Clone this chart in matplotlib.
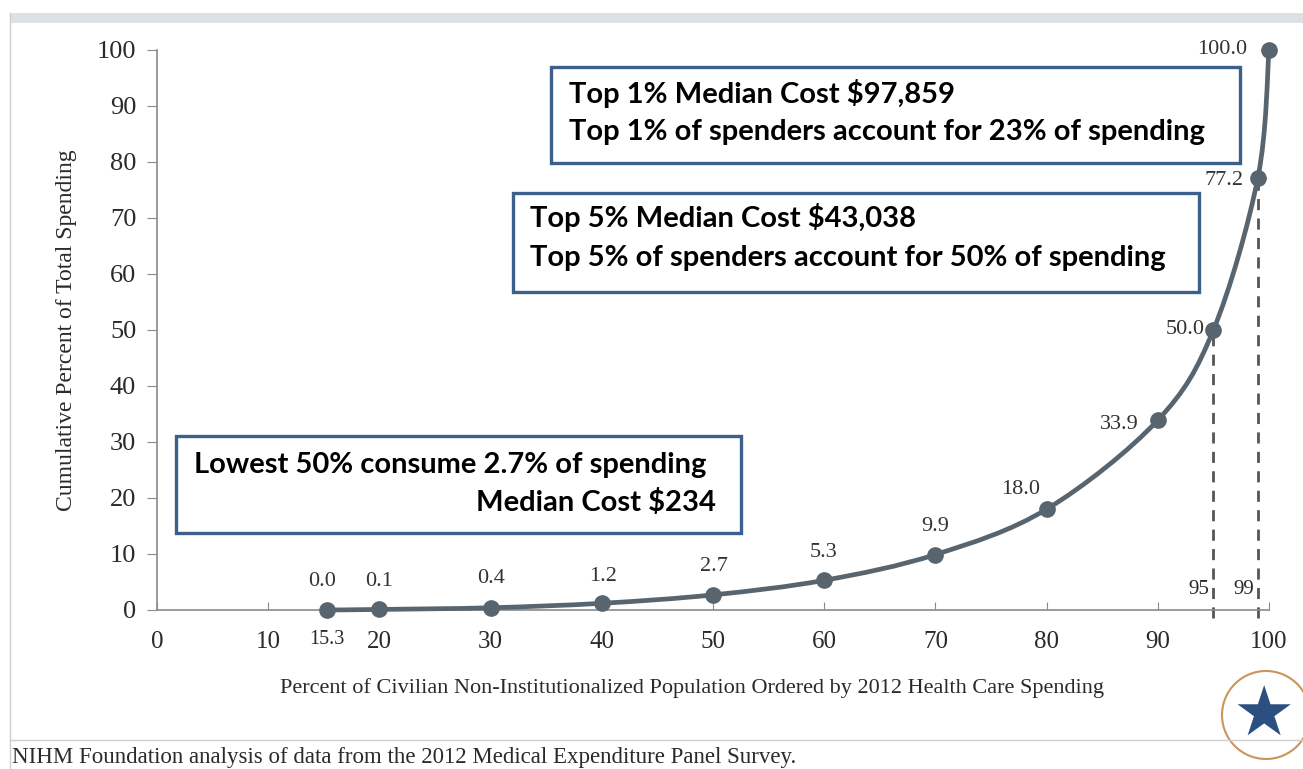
import matplotlib.pyplot as plt
from matplotlib.patches import Rectangle, Circle
from matplotlib.path import Path
from matplotlib.patches import PathPatch
from matplotlib.transforms import IdentityTransform

# data
pct_population = [15.3, 20, 30, 40, 50, 60, 70, 80, 90, 95, 99, 100]
cum_spending = [0.0, 0.1, 0.4, 1.2, 2.7, 5.3, 9.9, 18.0, 33.9, 50.0, 77.2, 100.0]
point_labels = ["0.0", "0.1", "0.4", "1.2", "2.7", "5.3", "9.9", "18.0", "33.9", "50.0", "77.2", "100.0"]
cutoffs = [95, 99]
cutoff_spending = [50.0, 77.2]
x_ticks = list(range(0, 101, 10))
y_ticks = list(range(0, 101, 10))

box_top1 = ["Top 1% Median Cost $97,859", "Top 1% of spenders account for 23% of spending"]
box_top5 = ["Top 5% Median Cost $43,038", "Top 5% of spenders account for 50% of spending"]
box_low = ["Lowest 50% consume 2.7% of spending", "Median Cost $234"]
footer = "NIHM Foundation analysis of data from the 2012 Medical Expenditure Panel Survey."

# label placement: (dx, dy) in pixels and horizontal alignment
label_offsets = [(-5, 28), (0, 28), (0, 29), (1, 27), (1, 28), (-1, 28), (0, 28),
                 (-6, 20), (-19, -4), (-9, 1), (-14, -3), (-22, 0)]
label_ha = ["center"] * 7 + ["right"] * 5

W, H = 1303, 769
fig = plt.figure(figsize=(W / 100, H / 100), dpi=100)
fig.patch.set_facecolor("white")

def fx(px):
    return px / W

def fy(py):
    return 1 - py / H

serif = "Liberation Serif"
sans = "Lato"
line_col = "#58656f"
axis_col = "#8a8a8a"
text_col = "#2a2a2a"
box_col = "#3c5f8c"

ax = fig.add_axes([fx(157), fy(610), fx(1269) - fx(157), fy(50) - fy(610)])
ax.set_xlim(0, 100)
ax.set_ylim(0, 100)
for s in ["top", "right"]:
    ax.spines[s].set_visible(False)
for s in ["left", "bottom"]:
    ax.spines[s].set_color(axis_col)
    ax.spines[s].set_linewidth(1.2)

ax.set_xticks(x_ticks)
ax.set_yticks(y_ticks)
ax.tick_params(axis="x", direction="in", length=6, color=axis_col, pad=15, labelsize=18, labelcolor=text_col)
ax.tick_params(axis="y", direction="out", length=7, color=axis_col, pad=8, labelsize=19, labelcolor=text_col)
for lab in ax.get_xticklabels() + ax.get_yticklabels():
    lab.set_fontfamily(serif)

# dashed drop lines at 95 and 99
for xc, yc in zip(cutoffs, cutoff_spending):
    ax.plot([xc, xc], [-1.5, yc], color="#555555", lw=2, ls=(0, (4, 3)), zorder=2, clip_on=False)
    ax.annotate(str(xc), (xc, 0), xytext=(-4, 20), textcoords="offset pixels",
                ha="right", va="center", fontsize=15, family=serif, color=text_col)

# smoothed line through the points (Excel-style bezier)
verts = [(pct_population[0], cum_spending[0])]
codes = [Path.MOVETO]
n = len(pct_population)
pts = list(zip(pct_population, cum_spending))
for i in range(n - 1):
    p0 = pts[max(i - 1, 0)]
    p1 = pts[i]
    p2 = pts[i + 1]
    p3 = pts[min(i + 2, n - 1)]
    c1 = (p1[0] + (p2[0] - p0[0]) / 6, p1[1] + (p2[1] - p0[1]) / 6)
    c2 = (p2[0] - (p3[0] - p1[0]) / 6, p2[1] - (p3[1] - p1[1]) / 6)
    verts += [c1, c2, p2]
    codes += [Path.CURVE4] * 3
curve = PathPatch(Path(verts, codes), facecolor="none", edgecolor=line_col, lw=3.4,
                  zorder=3, clip_on=False)
ax.add_patch(curve)
ax.plot(pct_population, cum_spending, ls="none", color=line_col, marker="o", ms=11,
        zorder=4, clip_on=False)

for x, y, lab, (dx, dy), ha in zip(pct_population, cum_spending, point_labels, label_offsets, label_ha):
    ax.annotate(lab, (x, y), xytext=(dx, dy), textcoords="offset pixels",
                ha=ha, va="center", fontsize=16, family=serif, color="#333333")

ax.annotate("15.3", (pct_population[0], 0), xytext=(0, -29), textcoords="offset pixels",
            ha="center", va="center", fontsize=14.5, family=serif, color=text_col)

ax.set_xlabel("Percent of Civilian Non-Institutionalized Population Ordered by 2012 Health Care Spending",
              fontsize=16, family=serif, color=text_col)
ax.xaxis.set_label_coords(0.4815, -0.121)
ax.set_ylabel("Cumulative Percent of Total Spending", fontsize=17, family=serif,
              color=text_col, labelpad=14)

# annotation boxes
def box(x0, y0, x1, y1):
    fig.add_artist(Rectangle((fx(x0), fy(y1)), fx(x1) - fx(x0), fy(y0) - fy(y1),
                             fill=True, facecolor="white", edgecolor=box_col, lw=2.4, zorder=5))

fs_box = 21
box(551, 67, 1240, 163)
fig.text(fx(569), fy(93), box_top1[0], fontsize=fs_box, weight="bold", family=sans, va="center", zorder=6)
fig.text(fx(569), fy(132), box_top1[1], fontsize=fs_box, weight="bold", family=sans, va="center", zorder=6)

box(513, 193, 1199, 292)
fig.text(fx(530), fy(218), box_top5[0], fontsize=fs_box, weight="bold", family=sans, va="center", zorder=6)
fig.text(fx(530), fy(258), box_top5[1], fontsize=fs_box, weight="bold", family=sans, va="center", zorder=6)

box(176, 436, 741, 533)
fig.text(fx(194), fy(465), box_low[0], fontsize=fs_box, weight="bold", family=sans, va="center", zorder=6)
fig.text(fx(716), fy(502), box_low[1], fontsize=fs_box, weight="bold", family=sans, va="center", ha="right", zorder=6)

# slide frame bits
fig.add_artist(Rectangle((fx(10), fy(23)), 1 - fx(10), fy(13) - fy(23), facecolor="#dde1e3",
                         edgecolor="none"))
fig.add_artist(plt.Line2D([fx(10), fx(10)], [fy(13), 0], color="#cfcfcf", lw=1))
fig.add_artist(plt.Line2D([fx(10), 1], [fy(740), fy(740)], color="#cfcfcf", lw=1))
fig.text(fx(12), fy(757), footer, fontsize=16.5, family=serif, color=text_col, va="center")

# rough stand-in for the logo
fig.add_artist(Circle((1266, H - 715), 44, transform=IdentityTransform(), facecolor="white",
                      edgecolor="#c9955a", lw=1.5))
fig.text(fx(1264), fy(716), "\u2605", fontsize=50, color="#2b4f80", ha="center", va="center",
         family="DejaVu Sans")

fig.savefig("out.png", dpi=100)
